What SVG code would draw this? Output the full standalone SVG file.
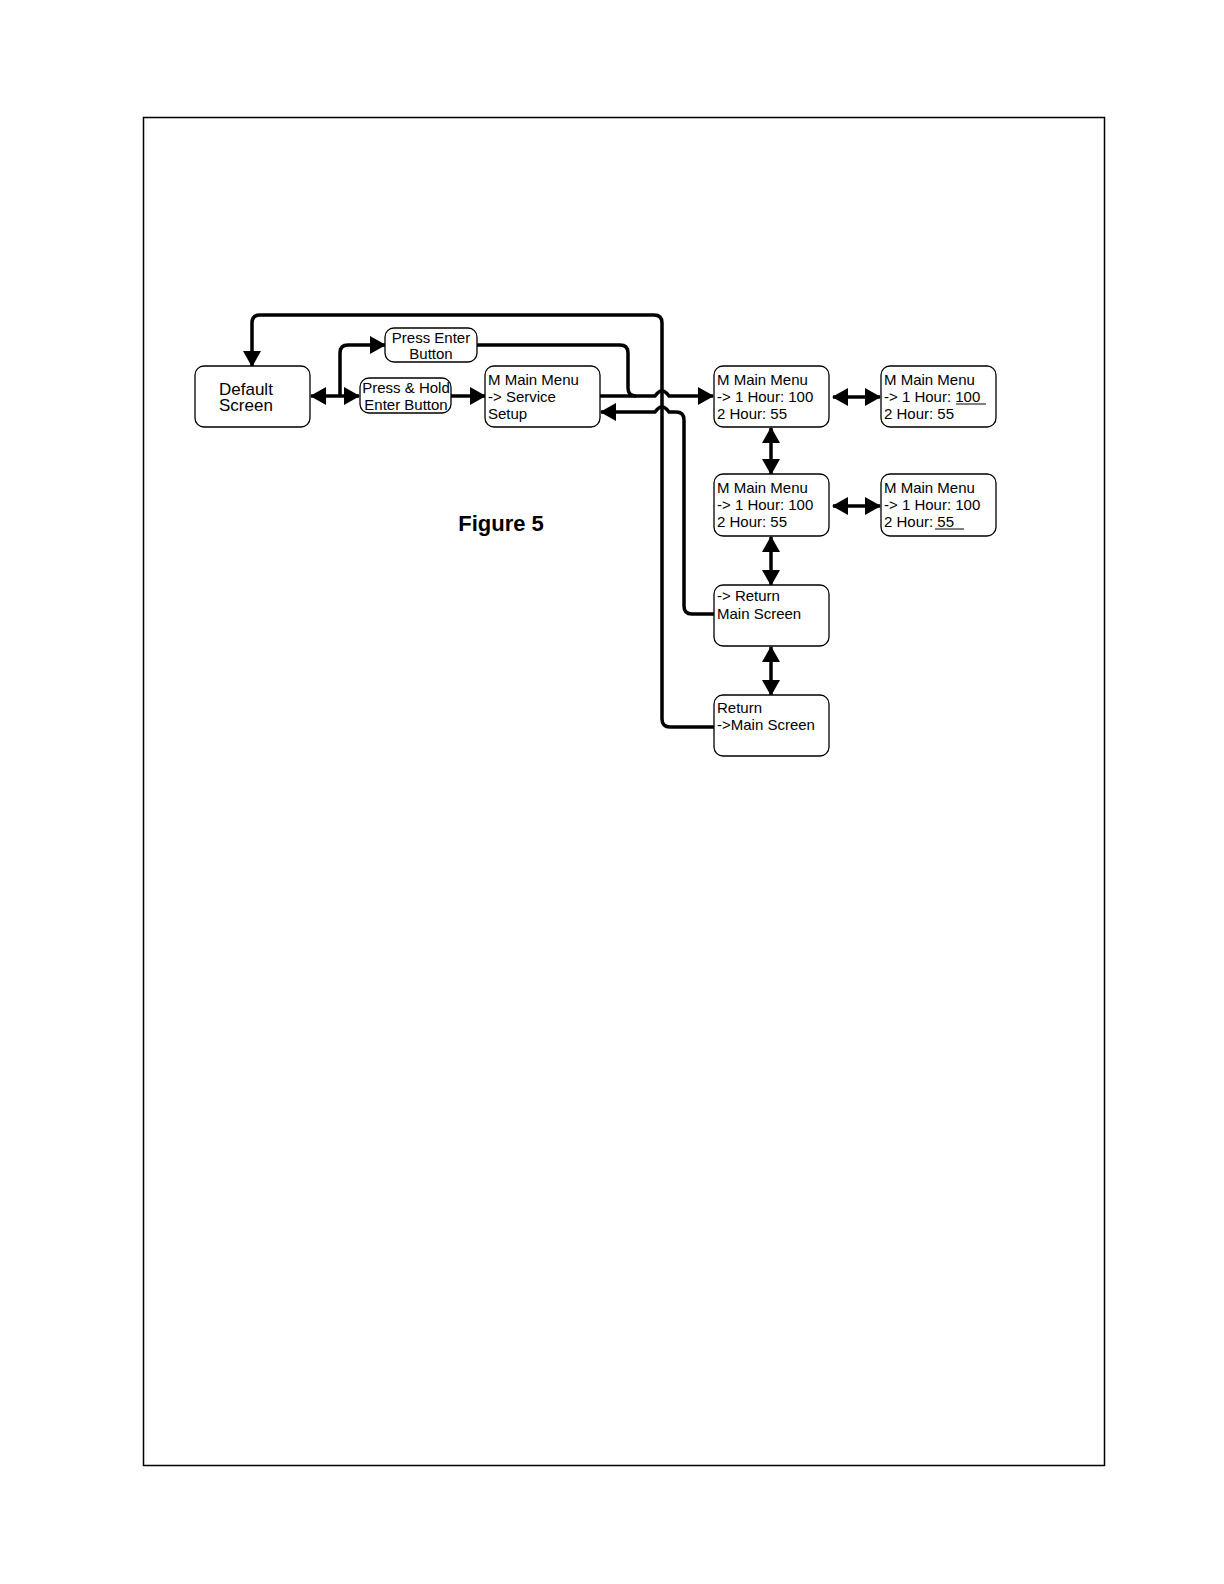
<svg xmlns="http://www.w3.org/2000/svg" width="1224" height="1584" viewBox="0 0 1224 1584">
<style>
.box{fill:#fff;stroke:#000;stroke-width:1.3}
.t{font-family:"Liberation Sans",Arial,sans-serif;font-size:15px;fill:#000}
.c{fill:none;stroke:#000;stroke-width:3.5}
.u{stroke:#000;stroke-width:1}
</style>
<defs>
<marker id="ah" markerUnits="userSpaceOnUse" markerWidth="16" markerHeight="18" refX="15" refY="9" orient="auto-start-reverse">
<path d="M0,0 L16,9 L0,18 z" fill="#000"/>
</marker>
</defs>
<rect x="0" y="0" width="1224" height="1584" fill="#fff"/>
<rect x="143.5" y="117.5" width="961" height="1348" fill="none" stroke="#000" stroke-width="1.5"/>

<g id="connectors">
<path class="c" d="M714,727 H670 Q662,727 662,719 V323 Q662,315 654,315 H260 Q252,315 252,323 V366" marker-end="url(#ah)"/>
<path class="c" d="M477,345 H620 Q628,345 628,353 V388 Q628,396 636,396 H655 Q662,386 669,396 H713" marker-end="url(#ah)"/>
<path class="c" d="M600,396 H636"/>
<path class="c" d="M714,614 H692 Q684,614 684,606 V420 Q684,412 676,412 H669 Q662,402 655,412 H601" marker-end="url(#ah)"/>
<path class="c" d="M311,396 H359" marker-start="url(#ah)" marker-end="url(#ah)"/>
<path class="c" d="M340,396 V353 Q340,345 348,345 H385" marker-end="url(#ah)"/>
<path class="c" d="M451,396 H485" marker-end="url(#ah)"/>
<path class="c" d="M833,397 H880" marker-start="url(#ah)" marker-end="url(#ah)"/>
<path class="c" d="M833,506 H880" marker-start="url(#ah)" marker-end="url(#ah)"/>
<path class="c" d="M771,428 V474" marker-start="url(#ah)" marker-end="url(#ah)"/>
<path class="c" d="M771,537 V585" marker-start="url(#ah)" marker-end="url(#ah)"/>
<path class="c" d="M771,647 V695" marker-start="url(#ah)" marker-end="url(#ah)"/>
</g>

<g id="default-screen">
<rect class="box" x="195" y="366" width="115" height="61" rx="9"/>
<text class="t" style="font-size:17px" x="219" y="395">Default</text>
<text class="t" style="font-size:17px" x="219" y="411">Screen</text>
</g>
<g id="press-enter">
<rect class="box" x="385" y="328" width="92" height="34" rx="9"/>
<text class="t" x="431" y="343" text-anchor="middle">Press Enter</text>
<text class="t" x="431" y="359" text-anchor="middle">Button</text>
</g>
<g id="press-hold">
<rect class="box" x="360" y="378" width="91" height="35" rx="9"/>
<text class="t" x="406" y="393" text-anchor="middle">Press &amp; Hold</text>
<text class="t" x="406" y="410" text-anchor="middle">Enter Button</text>
</g>
<g id="service-setup">
<rect class="box" x="485" y="366" width="115" height="61" rx="9"/>
<text class="t" x="488" y="385">M Main Menu</text>
<text class="t" x="488" y="402">-&gt; Service</text>
<text class="t" x="488" y="419">Setup</text>
</g>
<g id="menu1">
<rect class="box" x="714" y="366" width="115" height="61" rx="9"/>
<text class="t" x="717" y="385">M Main Menu</text>
<text class="t" x="717" y="402">-&gt; 1 Hour: 100</text>
<text class="t" x="717" y="419">2 Hour: 55</text>
</g>
<g id="menu1-edit">
<rect class="box" x="881" y="366" width="115" height="61" rx="9"/>
<text class="t" x="884" y="385">M Main Menu</text>
<text class="t" x="884" y="402">-&gt; 1 Hour: 100</text>
<text class="t" x="884" y="419">2 Hour: 55</text>
<line class="u" x1="956" y1="404" x2="986" y2="404"/>
</g>
<g id="menu2">
<rect class="box" x="714" y="474" width="115" height="62" rx="9"/>
<text class="t" x="717" y="493">M Main Menu</text>
<text class="t" x="717" y="510">-&gt; 1 Hour: 100</text>
<text class="t" x="717" y="527">2 Hour: 55</text>
</g>
<g id="menu2-edit">
<rect class="box" x="881" y="474" width="115" height="62" rx="9"/>
<text class="t" x="884" y="493">M Main Menu</text>
<text class="t" x="884" y="510">-&gt; 1 Hour: 100</text>
<text class="t" x="884" y="527">2 Hour: 55</text>
<line class="u" x1="935" y1="529" x2="964" y2="529"/>
</g>
<g id="return1">
<rect class="box" x="714" y="585" width="115" height="61" rx="9"/>
<text class="t" x="717" y="601">-&gt; Return</text>
<text class="t" x="717" y="619">Main Screen</text>
</g>
<g id="return2">
<rect class="box" x="714" y="695" width="115" height="61" rx="9"/>
<text class="t" x="717" y="713">Return</text>
<text class="t" x="717" y="730">-&gt;Main Screen</text>
</g>
<text x="501" y="531" text-anchor="middle" style="font-family:'Liberation Sans',Arial,sans-serif;font-size:22px;font-weight:bold">Figure 5</text>
</svg>
